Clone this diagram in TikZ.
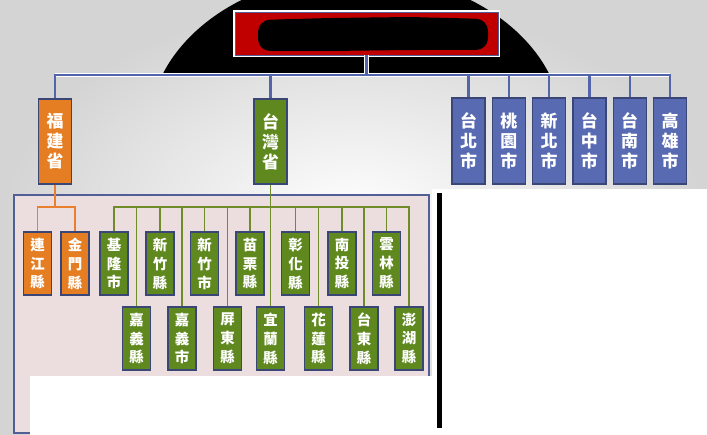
\documentclass[tikz,border=0pt]{standalone}
\usepackage{fontspec}
\newfontfamily\cjk{Noto Sans CJK TC}
\usetikzlibrary{calc}
\definecolor{orangefill}{RGB}{229,125,34}
\definecolor{greenfill}{RGB}{95,137,30}
\definecolor{bluefill}{RGB}{88,106,178}
\definecolor{boxedge}{RGB}{58,70,118}
\definecolor{panelfill}{RGB}{236,222,222}
\definecolor{paneledge}{RGB}{82,94,150}
\definecolor{lineblue}{RGB}{82,100,170}
\definecolor{linegreen}{RGB}{112,140,40}
\definecolor{lineorange}{RGB}{232,128,48}
\definecolor{titlered}{RGB}{192,0,0}
\tikzset{
  bigbox/.style={draw=boxedge, line width=1.3bp, minimum width=33bp, minimum height=85bp,
    inner sep=0pt, text=white, align=center, font=\cjk\bfseries\fontsize{17}{20}\selectfont},
  fjbox/.style={bigbox, fill=orangefill},
  twbox/.style={bigbox, fill=greenfill},
  citybox/.style={bigbox, fill=bluefill, minimum height=86bp},
  smallbox/.style={draw=boxedge, line width=1.3bp, minimum width=28bp, minimum height=63bp,
    inner sep=0pt, text=white, align=center, font=\cjk\bfseries\fontsize{14.5}{19}\selectfont},
  obox/.style={smallbox, fill=orangefill},
  gbox/.style={smallbox, fill=greenfill},
  titlebox/.style={fill=titlered, draw=paneledge, line width=0.8bp,
    preaction={draw=white, line width=3.5bp}, minimum width=263bp, minimum height=43bp, inner sep=0pt},
  bline/.style={draw=lineblue, line width=2.2bp},
  halo/.style={draw=white, line width=4.8bp},
  gline/.style={draw=linegreen, line width=1.3bp},
  oline/.style={draw=lineorange, line width=1.5bp},
}
\begin{document}
\begin{tikzpicture}[x=1bp,y=-1bp]
\useasboundingbox (0,0) rectangle (707,435);
\clip (0,0) rectangle (707,435);
% background
\shade[inner color=white, outer color=black!17] (0,0) rectangle (707,435);
% black arc
\begin{scope}
  \clip (0,0) rectangle (707,73);
  \fill[black] (356,130) ellipse [x radius=207, y radius=156];
\end{scope}
% lower panel
\fill[panelfill, draw=paneledge, line width=1.5bp] (14,195) rectangle (429,433);
% white areas
\fill[white] (432,189) rectangle (707,435);
\fill[white] (30,376) rectangle (437,435);
\fill[black] (437,193) rectangle (442,428);

% title
\node[titlebox] (title) at (366.5,33.5) {};
\fill[black, rounded corners=12bp] (258,20) -- (330,18) -- (410,17) -- (488,19) -- (488,50) -- (410,50) -- (330,51) -- (258,51) -- cycle;

% level 1
\node[fjbox] (fj) at (55,141.5) {福\\建\\省};
\node[twbox] (tw) at (270.5,141.5) {台\\灣\\省};
\node[citybox] (c1) at (468.5,141) {台\\北\\市};
\node[citybox] (c2) at (508.8,141) {桃\\園\\市};
\node[citybox] (c3) at (549.1,141) {新\\北\\市};
\node[citybox] (c4) at (589.4,141) {台\\中\\市};
\node[citybox] (c5) at (629.7,141) {台\\南\\市};
\node[citybox] (c6) at (670,141) {高\\雄\\市};

% level 2 top row
\node[obox] (lj) at (37.5,263.5) {連\\江\\縣};
\node[obox] (jm) at (75,263.5) {金\\門\\縣};
\node[gbox] (jl) at (114,263.5) {基\\隆\\市};
\node[gbox] (hz) at (160,263.5) {新\\竹\\縣};
\node[gbox] (hs) at (204.5,263.5) {新\\竹\\市};
\node[gbox] (ml) at (250,263.5) {苗\\栗\\縣};
\node[gbox] (zh) at (295.5,263.5) {彰\\化\\縣};
\node[gbox] (nt) at (342,263.5) {南\\投\\縣};
\node[gbox] (yn) at (386.5,263.5) {雲\\林\\縣};
% level 2 bottom row
\node[gbox] (cyx) at (136.5,338.5) {嘉\\義\\縣};
\node[gbox] (cys) at (182,338.5) {嘉\\義\\市};
\node[gbox] (pd) at (227.5,338.5) {屏\\東\\縣};
\node[gbox] (yl) at (270.5,338.5) {宜\\蘭\\縣};
\node[gbox] (hl) at (318.5,338.5) {花\\蓮\\縣};
\node[gbox] (td) at (364,338.5) {台\\東\\縣};
\node[gbox] (ph) at (409,338.5) {澎\\湖\\縣};

% connectors
\coordinate (bb) at (0,75);
\coordinate (gb) at (0,207);
\draw[halo] (title.south) -- (title.south |- bb);
\draw[halo] (fj.north |- bb) -- (c6.north |- bb);
\draw[bline] (title.south) -- (title.south |- bb);
\draw[bline] (fj.north) |- (c6.north |- bb) -- (c6.north);
\foreach \n in {tw,c1,c2,c3,c4,c5} \draw[bline] (\n.north) -- (\n.north |- bb);

\draw[oline] (fj.south) -- (fj.south |- gb);
\draw[oline] (lj.north) |- (jm.north |- gb) -- (jm.north);

\draw[gline] (tw.south) -- (yl.north);
\draw[gline] (jl.north) |- (ph.north |- gb) -- (ph.north);
\foreach \n in {hz,hs,ml,zh,nt,yn,cyx,cys,pd,hl,td} \draw[gline] (\n.north) -- (\n.north |- gb);
\end{tikzpicture}
\end{document}
